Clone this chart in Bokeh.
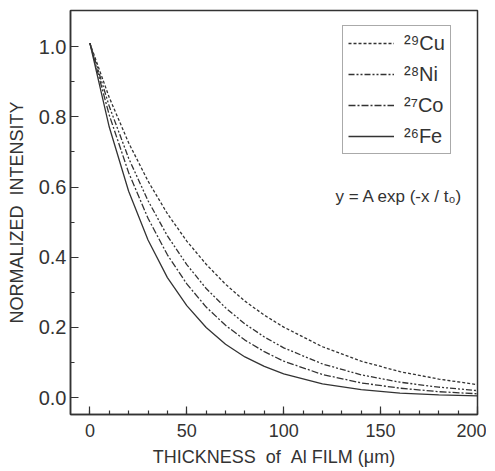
from bokeh.plotting import figure
from bokeh.models import Range1d, FixedTicker, Legend, LegendItem, Label
from bokeh.embed import file_html
from bokeh.resources import INLINE

# Thickness of Al film (um)
thickness = [0, 10, 20, 30, 40, 50, 60, 70, 80, 90, 100, 120, 140, 160, 180, 200]

# Normalized intensity
cu = [1.01, 0.855, 0.726, 0.617, 0.524, 0.446, 0.380, 0.323, 0.275, 0.235, 0.201, 0.145, 0.104, 0.074, 0.053, 0.037]
ni = [1.01, 0.830, 0.682, 0.561, 0.461, 0.379, 0.311, 0.256, 0.210, 0.173, 0.142, 0.096, 0.065, 0.044, 0.030, 0.020]
co = [1.01, 0.805, 0.641, 0.511, 0.407, 0.324, 0.258, 0.206, 0.164, 0.131, 0.104, 0.066, 0.042, 0.027, 0.017, 0.011]
fe = [1.01, 0.771, 0.588, 0.449, 0.342, 0.262, 0.200, 0.152, 0.116, 0.089, 0.068, 0.039, 0.023, 0.013, 0.008, 0.005]

series_labels = ["\u00b2\u2079Cu", "\u00b2\u2078Ni", "\u00b2\u2077Co", "\u00b2\u2076Fe"]
x_ticks = [0, 50, 100, 150, 200]
y_ticks = [0.0, 0.2, 0.4, 0.6, 0.8, 1.0]

FONT = "Liberation Sans"
INK = "#333333"
NB = "\u00a0"

p = figure(frame_width=407, frame_height=404, output_backend="svg", toolbar_location=None,
           x_range=Range1d(-10, 200), y_range=Range1d(-0.048, 1.103),
           min_border_left=70, min_border_right=9, min_border_top=10, min_border_bottom=4)
p.grid.visible = False
p.outline_line_color = INK
p.outline_line_width = 1.5
p.background_fill_color = "white"
p.border_fill_color = "white"

for ax in (p.xaxis[0], p.yaxis[0]):
    ax.axis_line_color = INK
    ax.axis_line_width = 1.5
    ax.major_tick_in = 8
    ax.major_tick_out = 0
    ax.minor_tick_in = 4
    ax.minor_tick_out = 0
    ax.major_tick_line_color = INK
    ax.minor_tick_line_color = INK
    ax.major_tick_line_width = 1.2
    ax.minor_tick_line_width = 1.2
    ax.major_label_text_font = FONT
    ax.major_label_text_color = INK
    ax.axis_label_text_font = FONT
    ax.axis_label_text_font_style = "normal"
    ax.axis_label_text_color = INK

p.xaxis.ticker = FixedTicker(ticks=x_ticks, minor_ticks=list(range(0, 201, 10)))
p.yaxis.ticker = FixedTicker(ticks=y_ticks, minor_ticks=[i / 10 for i in range(0, 11)])
p.xaxis.major_label_overrides = {t: str(t) for t in x_ticks}
p.yaxis.major_label_overrides = {t: f"{t:.1f}" for t in y_ticks}
p.xaxis.major_label_text_font_size = "18px"
p.yaxis.major_label_text_font_size = "20px"
p.xaxis.major_label_standoff = 9
p.yaxis.major_label_standoff = 4
p.xaxis.axis_label = "THICKNESS" + NB + NB + "of" + NB + NB + "Al FILM (\u03bcm)"
p.xaxis.axis_label_text_font_size = "18px"
p.xaxis.axis_label_standoff = 7
p.yaxis.axis_label = "NORMALIZED" + NB + NB + "INTENSITY"
p.yaxis.axis_label_text_font_size = "18px"
p.yaxis.axis_label_standoff = 9

styles = [("3 2", cu), ("6 2 2 2 2 2", ni), ("7 2 2 2", co), ("solid", fe)]
renderers = []
for dash, ys in styles:
    r = p.line(thickness, ys, line_color=INK, line_width=1.3, line_dash=dash)
    renderers.append(r)

legend = Legend(items=[LegendItem(label=lab, renderers=[r]) for lab, r in zip(series_labels, renderers)],
                location=(272, 260))
legend.label_text_font = FONT
legend.label_text_font_size = "20px"
legend.label_text_color = INK
legend.glyph_width = 46
legend.glyph_height = 24
legend.label_height = 24
legend.spacing = 7
legend.padding = 5
legend.label_standoff = 10
legend.border_line_color = "#555555"
legend.border_line_width = 1
legend.background_fill_alpha = 1
legend.margin = 0
p.add_layout(legend, "center")

formula = Label(x=265, y=209, x_units="screen", y_units="screen",
                text="y = A exp (-x / t\u2080)", text_font=FONT, text_font_size="17px",
                text_color=INK)
p.add_layout(formula)

open("out.html", "w").write(file_html(p, INLINE))
